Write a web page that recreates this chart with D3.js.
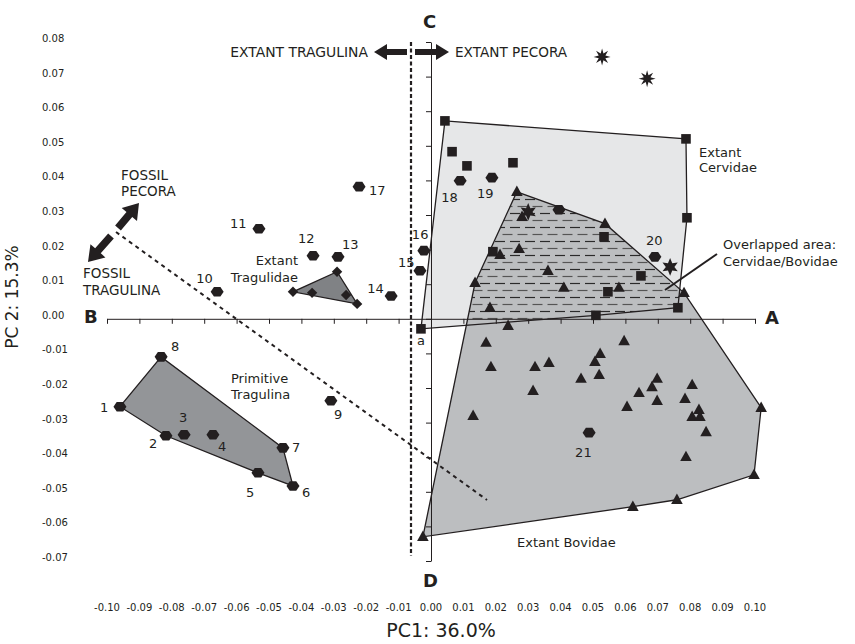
<!DOCTYPE html>
<html>
<head>
<meta charset="utf-8">
<script src="https://cdn.jsdelivr.net/npm/d3@7"></script>
<style>
  body { margin: 0; background: #fff; }
  text { font-family: "DejaVu Sans", sans-serif; fill: #231f20; }
</style>
</head>
<body>
<div id="chart"></div>
<script>
// PC scores: [label, PC1, PC2]
var fossils = [
  ["1", -0.0960, -0.0254], ["2", -0.0818, -0.0338], ["3", -0.0762, -0.0335],
  ["4", -0.0673, -0.0335], ["5", -0.0534, -0.0445], ["6", -0.0426, -0.0483],
  ["7", -0.0457, -0.0373], ["8", -0.0833, -0.0110], ["9", -0.0309, -0.0237],
  ["10", -0.0660, 0.0078], ["11", -0.0531, 0.0260], ["12", -0.0364, 0.0182],
  ["13", -0.0287, 0.0179], ["14", -0.0123, 0.0066], ["15", -0.0034, 0.0139],
  ["16", -0.0022, 0.0197], ["17", -0.0222, 0.0382], ["18", 0.0090, 0.0399],
  ["19", 0.0188, 0.0408], ["20", 0.0691, 0.0179], ["21", 0.0488, -0.0329],
  ["", 0.0395, 0.0315]
];
// primitive tragulina = fossils 1-8
var primitiveIds = ["1", "2", "3", "4", "5", "6", "7", "8"];

var tragulidae = [
  [-0.0426, 0.0078], [-0.0367, 0.0075], [-0.0290, 0.0136],
  [-0.0262, 0.0069], [-0.0228, 0.0043]
];

var cervidae = [
  [0.0043, 0.0572], [0.0787, 0.0520], [0.0065, 0.0483], [0.0111, 0.0442],
  [0.0253, 0.0451], [0.0790, 0.0292], [0.0534, 0.0237], [0.0191, 0.0194],
  [0.0648, 0.0124], [0.0546, 0.0078], [0.0509, 0.0010], [0.0762, 0.0032],
  [-0.0031, -0.0029]
];
var cervidaeLabelled = [["a", -0.0031, -0.0029]];

var bovidae = [
  [0.0265, 0.0367], [0.0281, 0.0295], [0.0537, 0.0275], [0.0272, 0.0202],
  [0.0213, 0.0185], [0.0361, 0.0139], [0.0136, 0.0104], [0.0410, 0.0090],
  [0.0580, 0.0090], [0.0781, 0.0075], [0.0182, 0.0032], [0.0238, -0.0020],
  [0.0170, -0.0069], [0.0596, -0.0064], [0.0522, -0.0101], [0.0506, -0.0124],
  [0.0185, -0.0139], [0.0321, -0.0139], [0.0364, -0.0127], [0.0519, -0.0162],
  [0.0463, -0.0173], [0.0698, -0.0173], [0.0682, -0.0197], [0.0806, -0.0191],
  [0.0315, -0.0208], [0.0642, -0.0214], [0.0698, -0.0237], [0.0784, -0.0231],
  [0.0605, -0.0254], [0.0827, -0.0263], [0.0806, -0.0283], [0.0830, -0.0283],
  [0.0130, -0.0280], [0.0849, -0.0327], [0.0787, -0.0399], [0.1019, -0.0257],
  [0.0997, -0.0451], [0.0759, -0.0523], [0.0623, -0.0543], [-0.0025, -0.0630]
];

var stars8 = [[0.0528, 0.0757], [0.0667, 0.0694]];
var stars6 = [[0.0738, 0.0150], [0.0300, 0.0309]];

var xTicks = [-0.10, -0.09, -0.08, -0.07, -0.06, -0.05, -0.04, -0.03, -0.02, -0.01,
              0.00, 0.01, 0.02, 0.03, 0.04, 0.05, 0.06, 0.07, 0.08, 0.09, 0.10];
var yTicks = [0.08, 0.07, 0.06, 0.05, 0.04, 0.03, 0.02, 0.01, 0.00,
              -0.01, -0.02, -0.03, -0.04, -0.05, -0.06, -0.07];

// label offsets (px) for the numbered points
var labelOffset = {
  "1": [-20, 5], "2": [-17, 12], "3": [-5, -13], "4": [5, 16], "5": [-12, 24],
  "6": [9, 11], "7": [9, 4], "8": [10, -6], "9": [3, 18], "10": [-21, -9],
  "11": [-29, -1], "12": [-15, -13], "13": [4, -8], "14": [-24, -3],
  "15": [-22, -4], "16": [-12, -12], "17": [10, 8], "18": [-19, 21],
  "19": [-15, 20], "20": [-9, -12], "21": [-14, 24], "a": [-4, 16]
};

var W = 855, H = 644;
var x = d3.scaleLinear().domain([-0.10, 0.10]).range([107, 755]);
var y = d3.scaleLinear().domain([-0.07, 0.08]).range([561, 42]);
var ink = "#231f20";

var svg = d3.select("#chart").append("svg")
  .attr("width", W).attr("height", H);

var defs = svg.append("defs");
var pat = defs.append("pattern")
  .attr("id", "dash")
  .attr("patternUnits", "userSpaceOnUse")
  .attr("width", 15).attr("height", 14);
pat.append("line").attr("x1", 0).attr("x2", 10).attr("y1", 3.5).attr("y2", 3.5)
  .attr("stroke", "#2b2b2b").attr("stroke-width", 1.2);
pat.append("line").attr("x1", 7.5).attr("x2", 15).attr("y1", 10.5).attr("y2", 10.5)
  .attr("stroke", "#555").attr("stroke-width", 1.2);
pat.append("line").attr("x1", 0).attr("x2", 2.5).attr("y1", 10.5).attr("y2", 10.5)
  .attr("stroke", "#555").attr("stroke-width", 1.2);

function hullPath(pts) {
  var h = d3.polygonHull(pts.map(function(d) { return [x(d[0]), y(d[1])]; }));
  return "M" + h.join("L") + "Z";
}

var primitive = fossils.filter(function(d) { return primitiveIds.indexOf(d[0]) >= 0; })
  .map(function(d) { return [d[1], d[2]]; });

var cervPath = hullPath(cervidae);
var bovPath = hullPath(bovidae);

defs.append("clipPath").attr("id", "cervClip").append("path").attr("d", cervPath);

// hull fills
svg.append("path").attr("d", cervPath).attr("fill", "#e6e7e8");
svg.append("path").attr("d", bovPath).attr("fill", "#bcbec0");
svg.append("path").attr("d", bovPath).attr("fill", "url(#dash)")
  .attr("clip-path", "url(#cervClip)");
svg.append("path").attr("d", cervPath).attr("fill", "none")
  .attr("stroke", ink).attr("stroke-width", 1.3);
svg.append("path").attr("d", bovPath).attr("fill", "none")
  .attr("stroke", ink).attr("stroke-width", 1.3);
svg.append("path").attr("d", hullPath(primitive)).attr("fill", "#939598")
  .attr("stroke", ink).attr("stroke-width", 1.3);
svg.append("path").attr("d", hullPath(tragulidae)).attr("fill", "#808285")
  .attr("stroke", ink).attr("stroke-width", 1.3);

// axes crossing at the origin
var xAxis = svg.append("g")
  .attr("transform", "translate(0," + y(0) + ")")
  .call(d3.axisBottom(x).tickValues(xTicks).tickSize(5).tickSizeOuter(0).tickFormat(""));
var yAxis = svg.append("g")
  .attr("transform", "translate(" + x(0) + ",0)")
  .call(d3.axisLeft(y).tickValues(yTicks).tickSize(5).tickSizeOuter(0).tickFormat(""));
svg.selectAll(".domain, .tick line").attr("stroke", ink).attr("stroke-width", 1);

var fmt = function(v) { return d3.format(".2f")(v).replace("\u2212", "-"); };

svg.append("g").selectAll("text")
  .data(xTicks).enter().append("text")
  .attr("x", function(d) { return x(d); })
  .attr("y", 611)
  .attr("text-anchor", "middle")
  .attr("font-size", 10)
  .text(fmt);

svg.append("g").selectAll("text")
  .data(yTicks).enter().append("text")
  .attr("x", 42)
  .attr("y", function(d) { return y(d); })
  .attr("font-size", 10)
  .text(fmt);

svg.append("text").attr("x", 441).attr("y", 637)
  .attr("text-anchor", "middle").attr("font-size", 19).text("PC1: 36.0%");
svg.append("text").attr("transform", "translate(18,297) rotate(-90)")
  .attr("text-anchor", "middle").attr("font-size", 17).text("PC 2: 15.3%");

// dotted dividers
svg.append("line").attr("x1", 411).attr("x2", 411).attr("y1", 42).attr("y2", 556)
  .attr("stroke", ink).attr("stroke-width", 2.2).attr("stroke-dasharray", "4,2.5");
svg.append("line").attr("x1", 116).attr("y1", 232).attr("x2", 487).attr("y2", 500)
  .attr("stroke", ink).attr("stroke-width", 2).attr("stroke-dasharray", "4,4");

function arrow(x1, y1, x2, y2, w, hw, hl) {
  var dx = x2 - x1, dy = y2 - y1, L = Math.sqrt(dx * dx + dy * dy);
  var ux = dx / L, uy = dy / L, px = -uy, py = ux;
  var bx = x2 - ux * hl, by = y2 - uy * hl;
  var p = [
    [x1 + px * w / 2, y1 + py * w / 2], [bx + px * w / 2, by + py * w / 2],
    [bx + px * hw / 2, by + py * hw / 2], [x2, y2],
    [bx - px * hw / 2, by - py * hw / 2], [bx - px * w / 2, by - py * w / 2],
    [x1 - px * w / 2, y1 - py * w / 2]
  ];
  svg.append("path").attr("d", "M" + p.join("L") + "Z").attr("fill", ink);
}
arrow(407, 52, 374, 52, 6, 16, 13);
arrow(415, 52, 449, 52, 6, 16, 13);
arrow(111, 236, 88, 262, 7.5, 20, 15);
arrow(118, 228, 139, 203, 7.5, 20, 15);

// pointer for the overlapped area
svg.append("line").attr("x1", 665).attr("y1", 290).attr("x2", 717).attr("y2", 254)
  .attr("stroke", ink).attr("stroke-width", 2);

// marker shapes
function hexagon(r) {
  var p = d3.range(6).map(function(i) {
    var a = i * Math.PI / 3;
    return [r * Math.cos(a), r * 0.85 * Math.sin(a)];
  });
  return "M" + p.join("L") + "Z";
}
function star(n, ro, ri) {
  var p = d3.range(2 * n).map(function(i) {
    var a = i * Math.PI / n - Math.PI / 2, r = i % 2 ? ri : ro;
    return [r * Math.cos(a), r * Math.sin(a)];
  });
  return "M" + p.join("L") + "Z";
}
var squareD = "M-4.8,-4.8L4.8,-4.8L4.8,4.8L-4.8,4.8Z";
var triD = "M0,-6.2L5.8,4.2L-5.8,4.2Z";
var diamondD = "M0,-5.2L5.2,0L0,5.2L-5.2,0Z";

function plot(data, d, getX, getY) {
  svg.append("g").selectAll("path")
    .data(data).enter().append("path")
    .attr("d", d)
    .attr("transform", function(p) { return "translate(" + x(getX(p)) + "," + y(getY(p)) + ")"; })
    .attr("fill", ink);
}
var fx = function(p) { return p[0]; }, fy = function(p) { return p[1]; };

plot(cervidae, squareD, fx, fy);
plot(bovidae, triD, fx, fy);
plot(tragulidae, diamondD, fx, fy);
plot(stars8, star(8, 8.5, 3.6), fx, fy);
plot(stars6, star(6, 8.8, 4.3), fx, fy);
plot(fossils, hexagon(6.5), function(p) { return p[1]; }, function(p) { return p[2]; });

// point numbers
var numbered = fossils.filter(function(d) { return d[0] !== ""; }).concat(cervidaeLabelled);
svg.append("g").selectAll("text")
  .data(numbered).enter().append("text")
  .attr("x", function(d) { return x(d[1]) + labelOffset[d[0]][0]; })
  .attr("y", function(d) { return y(d[2]) + labelOffset[d[0]][1]; })
  .attr("font-size", 13)
  .text(function(d) { return d[0]; });

// group labels
var notes = [
  ["EXTANT TRAGULINA", 368, 57, "end", 13.9],
  ["EXTANT PECORA", 455, 57, "start", 13.6],
  ["FOSSIL", 121, 180, "start", 13.5],
  ["PECORA", 121, 196, "start", 13.5],
  ["FOSSIL", 83, 278, "start", 13.5],
  ["TRAGULINA", 83, 295, "start", 13.5],
  ["Extant", 298, 265, "end", 13],
  ["Tragulidae", 298, 282, "end", 13],
  ["Primitive", 231, 383, "start", 13],
  ["Tragulina", 231, 399, "start", 13],
  ["Extant", 699, 157, "start", 13],
  ["Cervidae", 699, 172, "start", 13],
  ["Overlapped area:", 723, 249, "start", 13],
  ["Cervidae/Bovidae", 723, 266, "start", 13],
  ["Extant Bovidae", 517, 547, "start", 13]
];
svg.append("g").selectAll("text")
  .data(notes).enter().append("text")
  .attr("x", function(d) { return d[1]; })
  .attr("y", function(d) { return d[2]; })
  .attr("text-anchor", function(d) { return d[3]; })
  .attr("font-size", function(d) { return d[4]; })
  .text(function(d) { return d[0]; });

var letters = [["A", 765, 324], ["B", 84, 323], ["C", 423, 28], ["D", 423, 587]];
svg.append("g").selectAll("text")
  .data(letters).enter().append("text")
  .attr("x", function(d) { return d[1]; })
  .attr("y", function(d) { return d[2]; })
  .attr("font-size", 18)
  .attr("font-weight", "bold")
  .text(function(d) { return d[0]; });
</script>
</body>
</html>
